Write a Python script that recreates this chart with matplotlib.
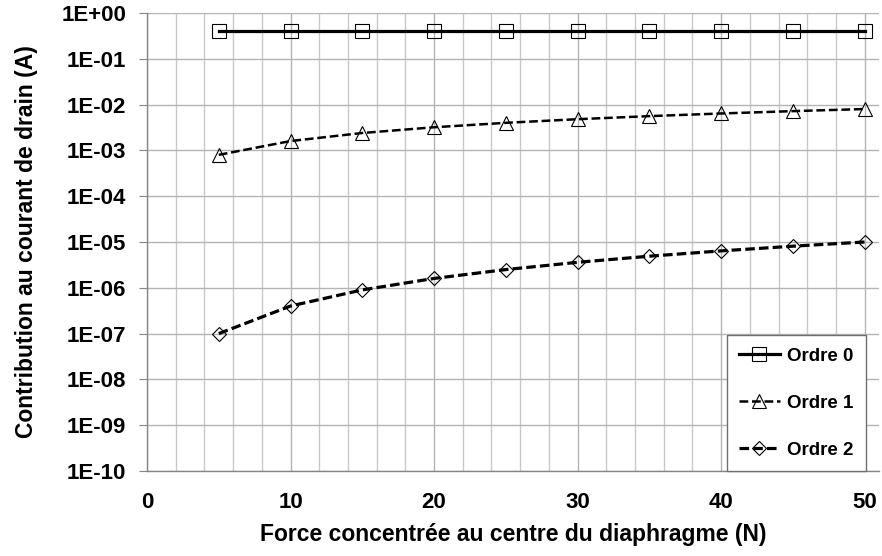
import math
import matplotlib
matplotlib.use("Agg")
import matplotlib.pyplot as plt
from matplotlib.ticker import FixedLocator, FuncFormatter, MultipleLocator

plt.rcParams['font.family'] = ['Liberation Sans', 'DejaVu Sans']
plt.rcParams['font.weight'] = 'bold'

# Data
force = [5, 10, 15, 20, 25, 30, 35, 40, 45, 50]
ordre_0 = [0.4, 0.4, 0.4, 0.4, 0.4, 0.4, 0.4, 0.4, 0.4, 0.4]
ordre_1 = [8.0e-4, 1.6e-3, 2.4e-3, 3.2e-3, 4.0e-3, 4.8e-3, 5.6e-3, 6.4e-3, 7.2e-3, 8.0e-3]
ordre_2 = [1.0e-7, 4.0e-7, 9.0e-7, 1.6e-6, 2.5e-6, 3.6e-6, 4.9e-6, 6.4e-6, 8.1e-6, 1.0e-5]

x_ticks = [0, 10, 20, 30, 40, 50]
y_ticks = [1e0, 1e-1, 1e-2, 1e-3, 1e-4, 1e-5, 1e-6, 1e-7, 1e-8, 1e-9, 1e-10]

fig = plt.figure(figsize=(8.82, 5.56), dpi=100)
ax = fig.add_axes([147 / 882, 85 / 556, (879 - 147) / 882, (471 - 13) / 556])

ax.plot(force, ordre_0, color='black', linestyle='-', linewidth=2.3,
        marker='s', markersize=9.5, markerfacecolor='none',
        markeredgecolor='black', markeredgewidth=0.8, label='Ordre 0')
ax.plot(force, ordre_1, color='black', linestyle=(0, (3.5, 1.5)), linewidth=1.8,
        marker='^', markersize=10, markerfacecolor='none',
        markeredgecolor='black', markeredgewidth=0.8, label='Ordre 1')
ax.plot(force, ordre_2, color='black', linestyle=(0, (3, 1.3)), linewidth=2.3,
        marker='D', markersize=7, markerfacecolor='none',
        markeredgecolor='black', markeredgewidth=0.8, label='Ordre 2')

ax.set_yscale('log')
ax.set_ylim(1e-10, 1e0)
ax.set_xlim(0, 51)

ax.yaxis.set_major_locator(FixedLocator(y_ticks))
ax.yaxis.set_minor_locator(FixedLocator([]))
ax.yaxis.set_major_formatter(FuncFormatter(lambda v, p: '1E%+03d' % round(math.log10(v))))
ax.xaxis.set_major_locator(FixedLocator(x_ticks))
ax.xaxis.set_minor_locator(MultipleLocator(2))

ax.grid(True, which='major', axis='y', color='#b4b4b4', linewidth=1.0)
ax.grid(True, which='major', axis='x', color='#b4b4b4', linewidth=1.0)
ax.grid(True, which='minor', axis='x', color='#c8c8c8', linewidth=1.0)
ax.set_axisbelow(True)

for side in ['top', 'right']:
    ax.spines[side].set_visible(False)
for side in ['left', 'bottom']:
    ax.spines[side].set_color('#868686')
    ax.spines[side].set_linewidth(1.0)

ax.tick_params(axis='y', which='major', direction='out', length=6, width=0.8,
               color='#868686', labelsize=16, pad=9)
ax.tick_params(axis='x', which='both', length=0, labelsize=16, pad=15)
for lab in ax.get_xticklabels() + ax.get_yticklabels():
    lab.set_fontweight('bold')

ax.set_xlabel('Force concentrée au centre du diaphragme (N)', fontsize=16.5,
              fontweight='bold', labelpad=7)
ax.set_ylabel('Contribution au courant de drain (A)', fontsize=16.5,
              fontweight='bold', labelpad=17)

leg = ax.legend(loc='lower right', bbox_to_anchor=(866 / 882, 85 / 556),
                bbox_transform=fig.transFigure, fancybox=False, shadow=False,
                framealpha=1, edgecolor='#6e6e6e', handlelength=2.2,
                handletextpad=0.4, labelspacing=1.6, borderpad=0.65,
                borderaxespad=0, prop={'weight': 'bold', 'size': 13.5})
leg.get_frame().set_linewidth(1.0)

fig.savefig('out.png', dpi=100)
